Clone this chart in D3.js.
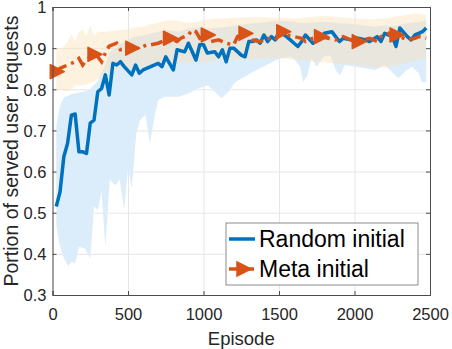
<!DOCTYPE html>
<html>
<head>
<meta charset="utf-8">
<script src="https://cdn.jsdelivr.net/npm/d3@7"></script>
<style>
  body { margin: 0; background: #fff; }
  svg { font-family: "Liberation Sans", Arial, Helvetica, sans-serif; }
  .grid line { stroke: #e6e6e6; stroke-width: 1; }
  .grid .domain { display: none; }
  .axis path, .axis line { stroke: #4d4d4d; }
  .axis text { fill: #262626; font-size: 16.5px; }
</style>
</head>
<body>
<svg id="chart" width="452" height="349"></svg>
<script>
// tick values / labels
const xTicks = [0, 500, 1000, 1500, 2000, 2500];
const xTickLabels = ["0", "500", "1000", "1500", "2000", "2500"];
const yTicks = [0.3, 0.4, 0.5, 0.6, 0.7, 0.8, 0.9, 1];
const yTickLabels = ["0.3", "0.4", "0.5", "0.6", "0.7", "0.8", "0.9", "1"];

const seriesNames = ["Random initial", "Meta initial"];

// Random initial - mean curve
const randomEp = [25, 50, 75, 100, 125, 150, 175, 200, 225, 250, 275, 300, 325, 350, 375, 400, 425, 450, 475, 525,
  550, 575, 600, 650, 700, 725, 750, 775, 800, 825, 875, 900, 950, 975, 1000, 1025, 1075, 1100, 1125, 1150,
  1175, 1200, 1250, 1275, 1300, 1325, 1350, 1375, 1400, 1425, 1450, 1475, 1500, 1550, 1600, 1625, 1650, 1675,
  1725, 1775, 1800, 1850, 1875, 1900, 1925, 1975, 2025, 2075, 2100, 2150, 2175, 2200, 2250, 2275, 2300, 2350,
  2375, 2400, 2425, 2450, 2475];
const randomMean = [0.515, 0.551, 0.636, 0.669, 0.737, 0.74, 0.648, 0.648, 0.644, 0.718, 0.725, 0.794, 0.802, 0.835,
  0.786, 0.863, 0.859, 0.867, 0.855, 0.835, 0.859, 0.839, 0.847, 0.855, 0.863, 0.855, 0.879, 0.863, 0.847, 0.896,
  0.891, 0.912, 0.871, 0.908, 0.908, 0.888, 0.891, 0.879, 0.896, 0.867, 0.9, 0.9, 0.883, 0.879, 0.916, 0.916, 0.92,
  0.912, 0.932, 0.916, 0.928, 0.92, 0.94, 0.928, 0.912, 0.904, 0.916, 0.932, 0.912, 0.924, 0.936, 0.94, 0.928,
  0.916, 0.924, 0.92, 0.924, 0.92, 0.916, 0.928, 0.916, 0.936, 0.928, 0.904, 0.949, 0.928, 0.92, 0.932, 0.936,
  0.94, 0.949];

// Random initial - shaded band
const randomBandEp = [25, 50, 75, 105, 125, 150, 175, 215, 250, 275, 300, 325, 350, 380, 415, 445, 475, 500, 525,
  555, 580, 615, 645, 680, 700, 745, 835, 900, 965, 1030, 1120, 1165, 1210, 1275, 1310, 1375, 1440, 1505, 1575,
  1605, 1640, 1660, 1685, 1715, 1750, 1795, 1840, 1880, 1905, 1935, 2005, 2070, 2135, 2200, 2245, 2290, 2335,
  2380, 2425, 2445, 2475];
const randomLow = [0.47, 0.417, 0.39, 0.369, 0.381, 0.377, 0.417, 0.413, 0.389, 0.515, 0.507, 0.551, 0.417, 0.58,
  0.567, 0.58, 0.507, 0.608, 0.559, 0.693, 0.725, 0.738, 0.669, 0.742, 0.774, 0.782, 0.782, 0.79, 0.802, 0.81,
  0.778, 0.794, 0.818, 0.831, 0.839, 0.851, 0.863, 0.875, 0.879, 0.871, 0.855, 0.818, 0.831, 0.875, 0.855, 0.879,
  0.883, 0.843, 0.835, 0.859, 0.855, 0.851, 0.847, 0.859, 0.843, 0.827, 0.843, 0.855, 0.839, 0.818, 0.818];
const randomHigh = [0.71, 0.76, 0.78, 0.785, 0.788, 0.79, 0.792, 0.795, 0.8, 0.81, 0.82, 0.84, 0.86, 0.89, 0.9,
  0.91, 0.915, 0.92, 0.925, 0.928, 0.93, 0.932, 0.935, 0.938, 0.94, 0.945, 0.94, 0.948, 0.95, 0.948, 0.95, 0.952,
  0.955, 0.958, 0.96, 0.962, 0.965, 0.966, 0.965, 0.964, 0.962, 0.962, 0.962, 0.962, 0.963, 0.964, 0.963, 0.962,
  0.96, 0.96, 0.958, 0.955, 0.952, 0.955, 0.953, 0.955, 0.96, 0.962, 0.963, 0.965, 0.968];

// Meta initial - mean curve
const metaEp = [25, 50, 100, 150, 175, 200, 225, 275, 300, 325, 350, 375, 425, 450, 525, 575, 625, 650, 700, 775,
  825, 850, 900, 925, 950, 975, 1025, 1050, 1100, 1150, 1200, 1225, 1275, 1300, 1325, 1375, 1425, 1475, 1525,
  1550, 1600, 1650, 1675, 1725, 1775, 1825, 1875, 1925, 1975, 2025, 2050, 2100, 2150, 2175, 2225, 2250, 2275,
  2350, 2400, 2425, 2475];
const metaMean = [0.843, 0.851, 0.859, 0.867, 0.875, 0.859, 0.871, 0.885, 0.879, 0.867, 0.888, 0.905, 0.912, 0.896,
  0.9, 0.9, 0.908, 0.908, 0.912, 0.924, 0.916, 0.924, 0.932, 0.944, 0.94, 0.924, 0.932, 0.916, 0.92, 0.912, 0.908,
  0.928, 0.936, 0.932, 0.92, 0.916, 0.924, 0.92, 0.94, 0.932, 0.928, 0.924, 0.916, 0.924, 0.928, 0.924, 0.92,
  0.928, 0.92, 0.916, 0.92, 0.924, 0.916, 0.928, 0.936, 0.928, 0.932, 0.92, 0.924, 0.928, 0.924];
const metaMarkerEp = [25, 275, 525, 775, 1025, 1275, 1525, 1775, 2025, 2275];

// Meta initial - shaded band
const metaBandEp = [25, 50, 75, 100, 125, 150, 175, 200, 225, 250, 275, 300, 350, 400, 450, 500, 550, 600, 650, 700,
  750, 800, 850, 900, 950, 1000, 1050, 1100, 1150, 1200, 1300, 1400, 1500, 1600, 1700, 1800, 1900, 2000, 2100,
  2200, 2300, 2400, 2475];
const metaLow = [0.8, 0.8, 0.797, 0.795, 0.8, 0.81, 0.81, 0.81, 0.812, 0.815, 0.818, 0.825, 0.84, 0.845, 0.85, 0.85,
  0.852, 0.855, 0.858, 0.86, 0.861, 0.862, 0.864, 0.865, 0.865, 0.866, 0.868, 0.87, 0.871, 0.872, 0.872, 0.874,
  0.876, 0.872, 0.868, 0.866, 0.862, 0.86, 0.855, 0.852, 0.86, 0.87, 0.875];
const metaHigh = [0.9, 0.895, 0.905, 0.915, 0.935, 0.915, 0.94, 0.945, 0.93, 0.955, 0.93, 0.94, 0.94, 0.942, 0.944,
  0.946, 0.95, 0.952, 0.958, 0.962, 0.966, 0.968, 0.965, 0.962, 0.964, 0.968, 0.97, 0.972, 0.972, 0.974, 0.975,
  0.975, 0.974, 0.972, 0.975, 0.978, 0.975, 0.972, 0.97, 0.972, 0.978, 0.985, 0.98];

class ShadedLineChart {

  constructor(holder) {
    this.svg = d3.select(holder);
    this.width = +this.svg.attr("width");
    this.height = +this.svg.attr("height");
    this.margin = {"left": 52.5, "right": 22, "top": 7, "bottom": 54};
    this.colors = ["#0072BD", "#D95319"];
    this.dash = "12,5,3,5";

    this.scale_x = d3.scaleLinear()
      .domain([0, 2500])
      .range([this.margin.left, this.width - this.margin.right]);
    this.scale_y = d3.scaleLinear()
      .domain([0.3, 1])
      .range([this.height - this.margin.bottom, this.margin.top]);
  }

  draw() {
    const x = this.scale_x, y = this.scale_y;
    const [x0, x1] = x.range();
    const [y0, y1] = y.range();

    // grid
    this.svg.append("g").attr("class", "grid")
      .attr("transform", `translate(0,${y0})`)
      .call(d3.axisBottom(x).tickValues(xTicks).tickSize(-(y0 - y1)).tickFormat(""));
    this.svg.append("g").attr("class", "grid")
      .attr("transform", `translate(${x0},0)`)
      .call(d3.axisLeft(y).tickValues(yTicks).tickSize(-(x1 - x0)).tickFormat(""));

    // shaded bands
    const band = d3.area()
      .x(d => x(d[0]))
      .y0(d => y(d[1]))
      .y1(d => y(d[2]));
    this.svg.append("path")
      .datum(d3.zip(randomBandEp, randomLow, randomHigh))
      .attr("fill", "#dbedfb")
      .attr("d", band);
    this.svg.append("path")
      .datum(d3.zip(metaBandEp, metaLow, metaHigh))
      .attr("fill", "#fbe0b8")
      .attr("fill-opacity", 0.45)
      .attr("d", band);

    // mean curves
    const line = d3.line().x(d => x(d[0])).y(d => y(d[1]));
    this.svg.append("path")
      .datum(d3.zip(randomEp, randomMean))
      .attr("fill", "none")
      .attr("stroke", this.colors[0])
      .attr("stroke-width", 3.5)
      .attr("stroke-linejoin", "round")
      .attr("d", line);
    this.svg.append("path")
      .datum(d3.zip(metaEp, metaMean))
      .attr("fill", "none")
      .attr("stroke", this.colors[1])
      .attr("stroke-width", 3.5)
      .attr("stroke-dasharray", this.dash)
      .attr("d", line);

    const markers = d3.zip(metaEp, metaMean).filter(d => metaMarkerEp.includes(d[0]));
    this.svg.append("g").selectAll("path")
      .data(markers)
      .join("path")
      .attr("transform", d => `translate(${x(d[0])},${y(d[1])})`)
      .attr("d", this.triangle())
      .attr("fill", this.colors[1])
      .attr("stroke", this.colors[1])
      .attr("stroke-width", 1.5)
      .attr("stroke-linejoin", "round");

    // axes (box with inward ticks)
    this.svg.append("g").attr("class", "axis")
      .attr("transform", `translate(0,${y0})`)
      .call(d3.axisBottom(x).tickValues(xTicks).tickSize(-4).tickPadding(13)
        .tickFormat((d, i) => xTickLabels[i]));
    this.svg.append("g").attr("class", "axis")
      .attr("transform", `translate(0,${y1})`)
      .call(d3.axisTop(x).tickValues(xTicks).tickSize(-4).tickFormat(""));
    this.svg.append("g").attr("class", "axis yleft")
      .attr("transform", `translate(${x0},0)`)
      .call(d3.axisLeft(y).tickValues(yTicks).tickSize(-4).tickPadding(6)
        .tickFormat((d, i) => yTickLabels[i]))
      .call(g => g.selectAll(".tick text").attr("dy", "0.36em"));
    this.svg.append("g").attr("class", "axis")
      .attr("transform", `translate(${x1},0)`)
      .call(d3.axisRight(y).tickValues(yTicks).tickSize(-4).tickFormat(""));

    // titles
    this.svg.append("text")
      .attr("text-anchor", "middle")
      .attr("x", (x0 + x1) / 2)
      .attr("y", 345)
      .attr("font-size", "18.5px")
      .attr("fill", "#262626")
      .text("Episode");
    this.svg.append("text")
      .attr("text-anchor", "middle")
      .attr("transform", `translate(18,${(y0 + y1) / 2}) rotate(-90)`)
      .attr("font-size", "19.5px")
      .attr("fill", "#262626")
      .text("Portion of served user requests");

    this.drawLegend();
  }

  triangle() {
    return "M-6,-7L8,0L-6,7Z";
  }

  drawLegend() {
    const lg = this.svg.append("g").attr("transform", "translate(226,223)");
    lg.append("rect")
      .attr("width", 192).attr("height", 62)
      .attr("fill", "#fff").attr("stroke", "#8c8c8c").attr("stroke-width", 1);
    seriesNames.forEach((name, i) => {
      const row = lg.append("g").attr("transform", `translate(0,${16 + i * 30})`);
      row.append("line")
        .attr("x1", 3).attr("x2", 29)
        .attr("stroke", this.colors[i])
        .attr("stroke-width", 3.5)
        .attr("stroke-dasharray", i === 1 ? "8,3,3,3" : null);
      if (i === 1) {
        row.append("path")
          .attr("transform", "translate(17,0)")
          .attr("d", this.triangle())
          .attr("fill", this.colors[1])
          .attr("stroke", this.colors[1])
          .attr("stroke-width", 1.5);
      }
      row.append("text")
        .attr("x", 33)
        .attr("dy", "0.36em")
        .attr("font-size", "23px")
        .attr("fill", "#000")
        .text(name);
    });
  }

}

const chart = new ShadedLineChart("#chart");
chart.draw();
</script>
</body>
</html>
